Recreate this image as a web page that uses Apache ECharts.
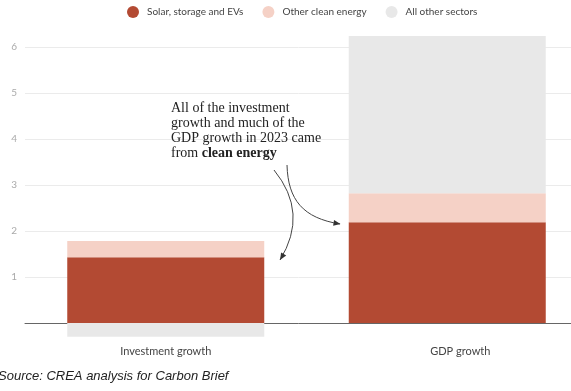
<!DOCTYPE html>
<html>
<head>
<meta charset="utf-8">
<script src="https://cdn.jsdelivr.net/npm/echarts@6/dist/echarts.min.js"></script>
<style>
  html, body { margin: 0; padding: 0; background: #fff; }
  #chart { width: 571px; height: 391px; }
</style>
</head>
<body>
<div id="chart"></div>
<script>
// ---- data ----
const categories = ['Investment growth', 'GDP growth'];
const seriesNames = ['Solar, storage and EVs', 'Other clean energy', 'All other sectors'];
const solarStorageEVs = [1.43, 2.19];
const otherCleanEnergy = [0.35, 0.63];
const allOtherSectors = [-0.30, 3.42];
const yTickLabels = [1, 2, 3, 4, 5, 6];

const colors = ['#b34a33', '#f5d1c6', '#e8e8e8'];

const Y_MIN = -0.5, Y_MAX = 6.5, Y_STEP = 0.5;

const chart = echarts.init(document.getElementById('chart'), null, { renderer: 'canvas' });

function arrowHead(tipX, tipY, fromX, fromY, len, half) {
  const dx = tipX - fromX, dy = tipY - fromY;
  const d = Math.sqrt(dx * dx + dy * dy);
  const ux = dx / d, uy = dy / d;
  const bx = tipX - ux * len, by = tipY - uy * len;
  const px = -uy, py = ux;
  return {
    type: 'polygon',
    z: 100,
    silent: true,
    shape: { points: [[tipX, tipY], [bx + px * half, by + py * half], [bx - px * half, by - py * half]] },
    style: { fill: '#333' }
  };
}

// split line colours: only integer ticks 1..6 visible
const splitColors = [];
for (let i = 0; Y_MIN + i * Y_STEP <= Y_MAX + 1e-9; i++) {
  const v = Math.round((Y_MIN + i * Y_STEP) * 100) / 100;
  splitColors.push(yTickLabels.indexOf(v) >= 0 ? '#ebebeb' : 'rgba(0,0,0,0)');
}

const option = {
  animation: false,
  legend: {
    top: 1,
    left: 122,
    icon: 'circle',
    itemWidth: 12,
    itemHeight: 12,
    itemGap: 19,
    textStyle: { fontFamily: 'Lato', fontSize: 10, color: '#444', padding: [0, 0, 0, 3] },
    data: seriesNames
  },
  grid: { left: 25, right: -17, top: 24, bottom: 45, containLabel: false, outerBoundsMode: 'none' },
  xAxis: [
    {
      type: 'category',
      data: categories,
      axisLine: { onZero: true, lineStyle: { color: '#666', width: 1 } },
      axisTick: { show: false },
      axisLabel: { show: false },
      splitLine: { show: false }
    },
    {
      type: 'category',
      data: categories,
      position: 'bottom',
      axisLine: { show: false, onZero: false },
      axisTick: { show: false },
      splitLine: { show: false },
      axisLabel: {
        margin: 0,
        fontFamily: 'Lato',
        fontSize: 11,
        color: '#444',
        formatter: function (v, i) { return i === 1 ? '{g|' + v + '}' : v; },
        rich: { g: { fontFamily: 'Lato', fontSize: 11, color: '#444', padding: [0, 0, 0, 26] } }
      }
    }
  ],
  yAxis: {
    type: 'value',
    min: Y_MIN,
    max: Y_MAX,
    interval: Y_STEP,
    axisLine: { show: false },
    axisTick: { show: false },
    axisLabel: {
      margin: 8,
      fontFamily: 'Lato',
      fontSize: 10,
      color: '#aaa',
      formatter: function (v) {
        const r = Math.round(v * 100) / 100;
        return yTickLabels.indexOf(r) >= 0 ? String(r) : '';
      }
    },
    splitLine: { show: true, lineStyle: { color: splitColors, width: 1 } }
  },
  series: [
    { name: seriesNames[0], type: 'bar', stack: 'total', xAxisIndex: 0, data: solarStorageEVs, barWidth: 197, itemStyle: { color: colors[0] } },
    { name: seriesNames[1], type: 'bar', stack: 'total', xAxisIndex: 0, data: otherCleanEnergy, barWidth: 197, itemStyle: { color: colors[1] } },
    { name: seriesNames[2], type: 'bar', stack: 'total', xAxisIndex: 0, data: allOtherSectors, barWidth: 197, itemStyle: { color: colors[2] } }
  ],
  graphic: [
    {
      type: 'text',
      left: 171,
      top: 101,
      z: 100,
      silent: true,
      style: {
        text: 'All of the investment\ngrowth and much of the\nGDP growth in 2023 came\nfrom {b|clean energy}',
        fontFamily: 'Liberation Serif',
        fontSize: 14,
        lineHeight: 15,
        fill: '#222',
        rich: { b: { fontFamily: 'Liberation Serif', fontSize: 14, fontWeight: 'bold', fill: '#222', lineHeight: 15 } }
      }
    },
    {
      type: 'bezierCurve',
      silent: true,
      z: 100,
      shape: { x1: 274, y1: 170, cpx1: 309, cpy1: 213, x2: 280, y2: 260 },
      style: { stroke: '#444', lineWidth: 1, fill: null }
    },
    arrowHead(280, 260, 309, 213, 7, 3),
    {
      type: 'bezierCurve',
      silent: true,
      z: 100,
      shape: { x1: 287, y1: 165, cpx1: 288, cpy1: 200, cpx2: 303, cpy2: 218, x2: 340, y2: 224 },
      style: { stroke: '#444', lineWidth: 1, fill: null }
    },
    arrowHead(340.5, 224, 303, 218, 7, 3),
    {
      type: 'text',
      left: -2,
      top: 370,
      silent: true,
      style: {
        text: 'Source: CREA analysis for Carbon Brief',
        fontFamily: 'Liberation Sans',
        fontStyle: 'italic',
        fontSize: 13,
        fill: '#222'
      }
    }
  ]
};

chart.setOption(option);
</script>
</body>
</html>
